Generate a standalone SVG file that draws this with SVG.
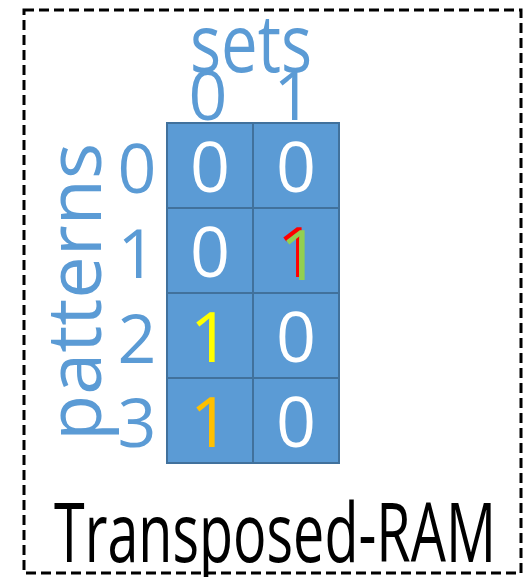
<svg xmlns="http://www.w3.org/2000/svg" width="528" height="577" viewBox="0 0 528 577">
<style>
.lbl{font-family:"Open Sans","Liberation Sans",sans-serif;fill:#5B9BD5;}
.cell{fill:#5B9BD5;stroke:#41719C;stroke-width:2;}
.dig{font-family:"Open Sans","Liberation Sans",sans-serif;font-size:70px;text-anchor:middle;fill:#FFFFFF;}
.rl{font-family:"Open Sans","Liberation Sans",sans-serif;font-size:68px;text-anchor:middle;fill:#5B9BD5;}
</style>
<rect x="24" y="10" width="497" height="563" fill="#FFFFFF" stroke="#000000" stroke-width="3" stroke-dasharray="10 5"/>
<g id="title-sets"><text class="lbl" x="251" y="72" font-size="80" text-anchor="middle" textLength="122" lengthAdjust="spacingAndGlyphs">sets</text></g>
<g id="col-labels">
<text class="rl" x="208" y="120">0</text>
<text class="rl" x="293" y="120">1</text>
</g>
<g id="title-patterns"><text class="lbl" transform="translate(101,292) rotate(-90)" font-size="75" text-anchor="middle" textLength="298" lengthAdjust="spacingAndGlyphs">patterns</text></g>
<g id="row-labels">
<text class="rl" x="137" y="193">0</text>
<text class="rl" x="137" y="278">1</text>
<text class="rl" x="137" y="363">2</text>
<text class="rl" x="137" y="447">3</text>
</g>
<g id="cell-0-0"><rect class="cell" x="167" y="123" width="86" height="85"/><text class="dig" x="210" y="192">0</text></g>
<g id="cell-0-1"><rect class="cell" x="253" y="123" width="86" height="85"/><text class="dig" x="296" y="192">0</text></g>
<g id="cell-1-0"><rect class="cell" x="167" y="208" width="86" height="85"/><text class="dig" x="210" y="277">0</text></g>
<g id="cell-1-1"><rect class="cell" x="253" y="208" width="86" height="85"/><text class="dig" x="297" y="277" style="fill:#FF0000">1</text><text class="dig" x="300" y="280" style="fill:#92D050">1</text></g>
<g id="cell-2-0"><rect class="cell" x="167" y="293" width="86" height="85"/><text class="dig" x="210" y="362" style="fill:#FFFF00">1</text></g>
<g id="cell-2-1"><rect class="cell" x="253" y="293" width="86" height="85"/><text class="dig" x="296" y="362">0</text></g>
<g id="cell-3-0"><rect class="cell" x="167" y="378" width="86" height="85"/><text class="dig" x="210" y="447" style="fill:#FFC000">1</text></g>
<g id="cell-3-1"><rect class="cell" x="253" y="378" width="86" height="85"/><text class="dig" x="296" y="447">0</text></g>
<g id="connectors"></g>
<g id="caption"><text x="275" y="562" font-family="'Open Sans','Liberation Sans',sans-serif" font-size="82" text-anchor="middle" fill="#000000" textLength="442" lengthAdjust="spacingAndGlyphs">Transposed-RAM</text></g>
</svg>
